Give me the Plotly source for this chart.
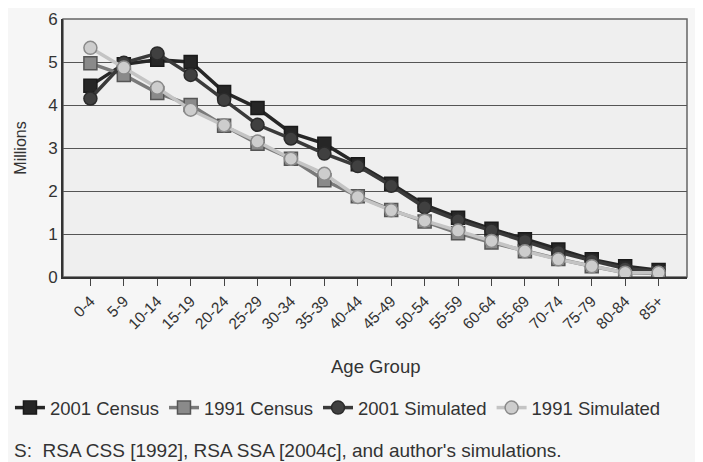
import plotly.graph_objects as go

age_groups = ["0-4", "5-9", "10-14", "15-19", "20-24", "25-29", "30-34", "35-39", "40-44",
              "45-49", "50-54", "55-59", "60-64", "65-69", "70-74", "75-79", "80-84", "85+"]

census_2001 = [4.45, 4.95, 5.05, 5.0, 4.3, 3.93, 3.35, 3.1, 2.62, 2.17, 1.68, 1.38, 1.12, 0.88, 0.64, 0.41, 0.25, 0.16]
census_1991 = [4.97, 4.7, 4.28, 4.0, 3.52, 3.1, 2.75, 2.25, 1.88, 1.56, 1.29, 1.02, 0.8, 0.6, 0.42, 0.25, 0.1, 0.08]
sim_2001 = [4.15, 4.98, 5.2, 4.7, 4.12, 3.54, 3.22, 2.87, 2.58, 2.12, 1.62, 1.32, 1.08, 0.84, 0.58, 0.38, 0.2, 0.13]
sim_1991 = [5.33, 4.87, 4.4, 3.89, 3.53, 3.15, 2.75, 2.4, 1.86, 1.55, 1.31, 1.08, 0.84, 0.6, 0.41, 0.25, 0.1, 0.1]

font_family = "Liberation Sans, Arial, sans-serif"

fig = go.Figure()
series = [
    ("2001 Census", census_2001, "#262626", "square", "#262626", "#1a1a1a"),
    ("1991 Census", census_1991, "#7a7a7a", "square", "#8a8a8a", "#555555"),
    ("2001 Simulated", sim_2001, "#3a3a3a", "circle", "#404040", "#2a2a2a"),
    ("1991 Simulated", sim_1991, "#c4c4c4", "circle", "#cdcdcd", "#8a8a8a"),
]
for name, vals, lc, sym, mfill, mline in series:
    fig.add_trace(go.Scatter(
        x=age_groups, y=vals, name=name, mode="lines+markers",
        line=dict(color=lc, width=3.5),
        marker=dict(symbol=sym, size=13, color=mfill, line=dict(color=mline, width=1.5)),
    ))

# page body has an 8px margin; figure is sized to fill the rest of the window
fig.update_layout(
    width=695, height=454,
    margin=dict(l=55, r=16, t=11, b=185, autoexpand=False),
    paper_bgcolor="#f6f6f6",
    plot_bgcolor="#efefef",
    font=dict(family=font_family, color="#333333", size=15),
    showlegend=True,
    legend=dict(orientation="h", x=-0.085, xanchor="left",
                y=-0.508, yanchor="middle",
                font=dict(size=18.5, color="#333333"), bgcolor="rgba(0,0,0,0)",
                itemwidth=30, tracegroupgap=0),
    xaxis=dict(
        type="category", range=[-0.82, 17.85], automargin=False,
        tickangle=-45, tickfont=dict(size=15.5, color="#333333"),
        ticks="outside", ticklen=7, tickcolor="#444444", tickwidth=1,
        showgrid=False, showline=True, linecolor="#333333", linewidth=2,
        mirror=False, zeroline=False,
    ),
    yaxis=dict(
        range=[0, 6], dtick=1, tickfont=dict(size=17, color="#333333"), automargin=False,
        showgrid=True, gridcolor="#555555", gridwidth=1,
        showline=True, linecolor="#333333", linewidth=2, zeroline=False,
        ticks="", title=dict(text="Millions", font=dict(size=16, color="#333333"), standoff=18),
    ),
    annotations=[
        dict(text="Age Group", xref="paper", yref="paper", x=0.5, y=-0.345,
             xanchor="center", yanchor="middle", showarrow=False,
             font=dict(size=18.5, color="#333333")),
        dict(text="S:  RSA CSS [1992], RSA SSA [2004c], and author's simulations.",
             xref="paper", yref="paper", x=-0.081, y=-0.672, xanchor="left", yanchor="middle",
             showarrow=False, font=dict(size=19, color="#333333")),
    ],
    shapes=[
        dict(type="rect", xref="paper", yref="paper", x0=0, y0=0, x1=1, y1=1,
             line=dict(color="#666666", width=1.5), layer="below"),
    ],
)

fig.write_html("out.html")
